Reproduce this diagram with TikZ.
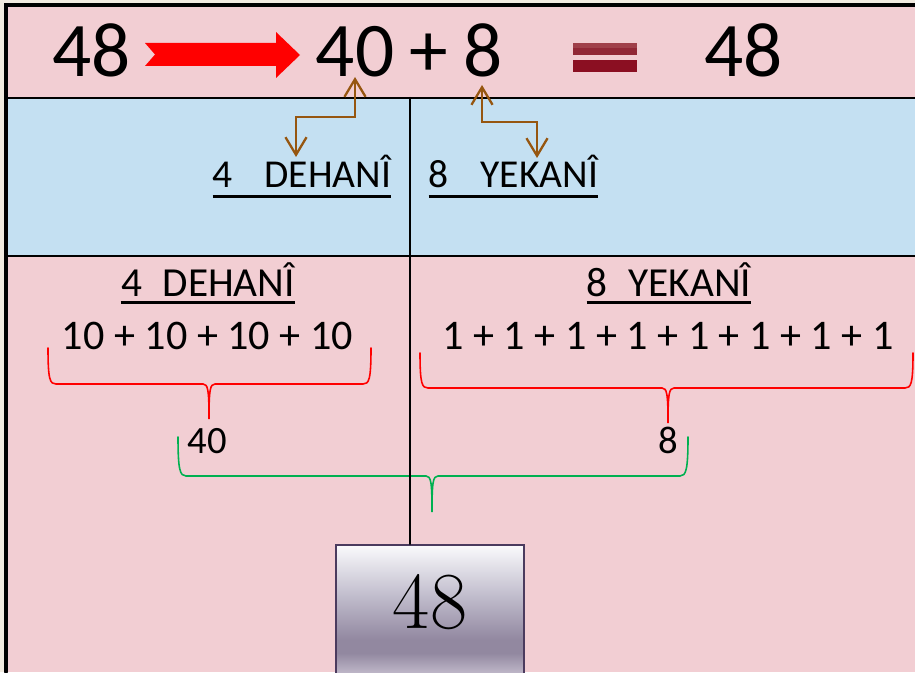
\documentclass[tikz,border=0pt]{standalone}
\usepackage{fontspec}
\newfontfamily\calibri{Carlito}
\usetikzlibrary{arrows.meta,calc}
\definecolor{paper}{RGB}{242,235,224}
\definecolor{pinkbg}{RGB}{242,206,211}
\definecolor{bluebg}{RGB}{196,224,242}
\definecolor{arrowbrown}{RGB}{150,86,16}
\definecolor{eqtop}{RGB}{160,64,74}
\definecolor{eqmid}{RGB}{145,40,54}
\definecolor{eqlow}{RGB}{139,15,34}
\definecolor{bracegreen}{RGB}{0,176,80}
\definecolor{boxline}{RGB}{75,59,94}
\definecolor{boxtop}{RGB}{250,250,252}
\definecolor{boxmid}{RGB}{192,188,204}
\definecolor{boxdark}{RGB}{146,136,160}
\definecolor{boxlow}{RGB}{188,180,198}
\pgfdeclareverticalshading{boxshade}{100bp}{color(0bp)=(boxlow); color(25bp)=(boxlow); color(28bp)=(boxlow); color(35bp)=(boxdark); color(40bp)=(boxdark); color(56bp)=(boxmid); color(75bp)=(boxtop); color(100bp)=(boxtop)}

\begin{document}
\begin{tikzpicture}[x=0.02cm,y=-0.02cm,line cap=round,
  bigtxt/.style={font=\calibri\fontsize{44}{50}\selectfont,inner sep=0pt,anchor=base},
  bandtxt/.style={font=\calibri\fontsize{22.5}{26}\selectfont,inner sep=0pt,anchor=base},
  headtxt/.style={font=\calibri\fontsize{23.5}{28}\selectfont,inner sep=0pt,anchor=base},
  sumtxt/.style={font=\calibri\fontsize{24}{28}\selectfont,inner sep=0pt,anchor=base},
  parttxt/.style={font=\calibri\fontsize{22}{26}\selectfont,inner sep=0pt,anchor=base},
  uline/.style={line width=1.7pt,line cap=butt},
  twoway/.style={arrowbrown,line width=1.3pt,line cap=butt,
    {Straight Barb[length=10pt,width=12pt]}-{Straight Barb[length=10pt,width=12pt]}},
  redbrace/.style={red,line width=0.9pt},
  greenbrace/.style={bracegreen,line width=0.9pt},
  sumbox/.style={draw=boxline,line width=1.2pt,shading=boxshade,
    minimum width=3.76cm,minimum height=2.7cm,inner sep=0pt}]
\useasboundingbox (0,0) rectangle (915,672);
% bands
\fill[paper] (0,0) rectangle (915,672);
\fill[pinkbg] (6,5) rectangle (915,98);
\fill[bluebg] (6,98) rectangle (915,256);
\fill[pinkbg] (6,256) rectangle (915,672);
\draw[line width=2pt] (6,672) -- (6,5) -- (915,5);
\draw[line width=1.4pt] (6,98) -- (915,98);
\draw[line width=1.4pt] (6,256) -- (915,256);

% top row
\node[bigtxt] (start) at (91.5,77) {48};
\node[bigtxt] (n40) at (355,77) {40};
\node[bigtxt] (plus) at (429,77) {+};
\node[bigtxt] (n8) at (483.5,77) {8};
\node[bigtxt] (result) at (743.5,77) {48};
\fill[red] (145,43) -- (276,43) -- (276,32) -- (300,55) -- (276,78) -- (276,66) -- (145,66) -- (155,54.5) -- cycle;
\fill[eqmid] (573,43) rectangle (637,55);
\fill[eqtop] (573,43) rectangle (637,48);
\fill[eqlow] (573,60) rectangle (637,72);

% blue band
\node[bandtxt] (dehaniA) at (302,188) {4\hspace{0.8em}DEHANÎ};
\node[bandtxt] (yekaniA) at (513.5,188) {8\hspace{0.8em}YEKANÎ};
\draw[uline] ([yshift=-4.8pt]dehaniA.base west) -- ([yshift=-4.8pt]dehaniA.base east);
\draw[uline] ([yshift=-4.8pt]yekaniA.base west) -- ([yshift=-4.8pt]yekaniA.base east);
\coordinate (tipD) at (296,157);
\coordinate (tipY) at (537,158);
\draw[twoway] (tipD) |- ($(n40.base)+(0,40)$) -- (n40.base);
\draw[twoway] ($(n8.base)+(-1.5,8)$) |- ($(n8.base)+(0,45)$) -| (tipY);

% bottom part
\node[headtxt] (dehaniB) at (208,296) {4\hspace{0.5em}DEHANÎ};
\node[headtxt] (yekaniB) at (669,296) {8\hspace{0.5em}YEKANÎ};
\draw[uline] ([yshift=-3.8pt]dehaniB.base west) -- ([yshift=-3.8pt]dehaniB.base east);
\draw[uline] ([yshift=-3.8pt]yekaniB.base west) -- ([yshift=-3.8pt]yekaniB.base east);
\node[sumtxt] (sumTen) at (207.5,349) {10 + 10 + 10 + 10};
\node[sumtxt] (sumOne) at (668,349) {1 + 1 + 1 + 1 + 1 + 1 + 1 + 1};
\draw[redbrace] (48,348) .. controls (48,380) and (50,384) .. (56,384) -- (203,384) .. controls (208,384) and (209,390) .. (209,419) .. controls (209,390) and (210,384) .. (215,384) -- (363,384) .. controls (369,384) and (371,380) .. (371,348);
\draw[redbrace] (420,353) .. controls (420,384) and (422,388) .. (428,388) -- (662,388) .. controls (667,388) and (668,394) .. (668,423) .. controls (668,394) and (669,388) .. (674,388) -- (905,388) .. controls (911,388) and (913,384) .. (913,353);
\node[parttxt] (partTen) at (207,453) {40};
\node[parttxt] (partOne) at (668,453) {8};
\draw[greenbrace] (178,437) .. controls (178,470) and (180,476) .. (186,476) -- (426,476) .. controls (431,476) and (432,482) .. (432,512) .. controls (432,482) and (433,476) .. (438,476) -- (680,476) .. controls (686,476) and (688,470) .. (688,437);

% result box
\node[sumbox] (box) at (430,612.5) {};
\coordinate (midTop) at (410,98);
\draw[line width=1.2pt] (midTop) -- (midTop |- box.north);
\node[font=\fontsize{46}{50}\selectfont,inner sep=0pt,anchor=base] (total) at (430,628) {48};
\end{tikzpicture}
\end{document}
